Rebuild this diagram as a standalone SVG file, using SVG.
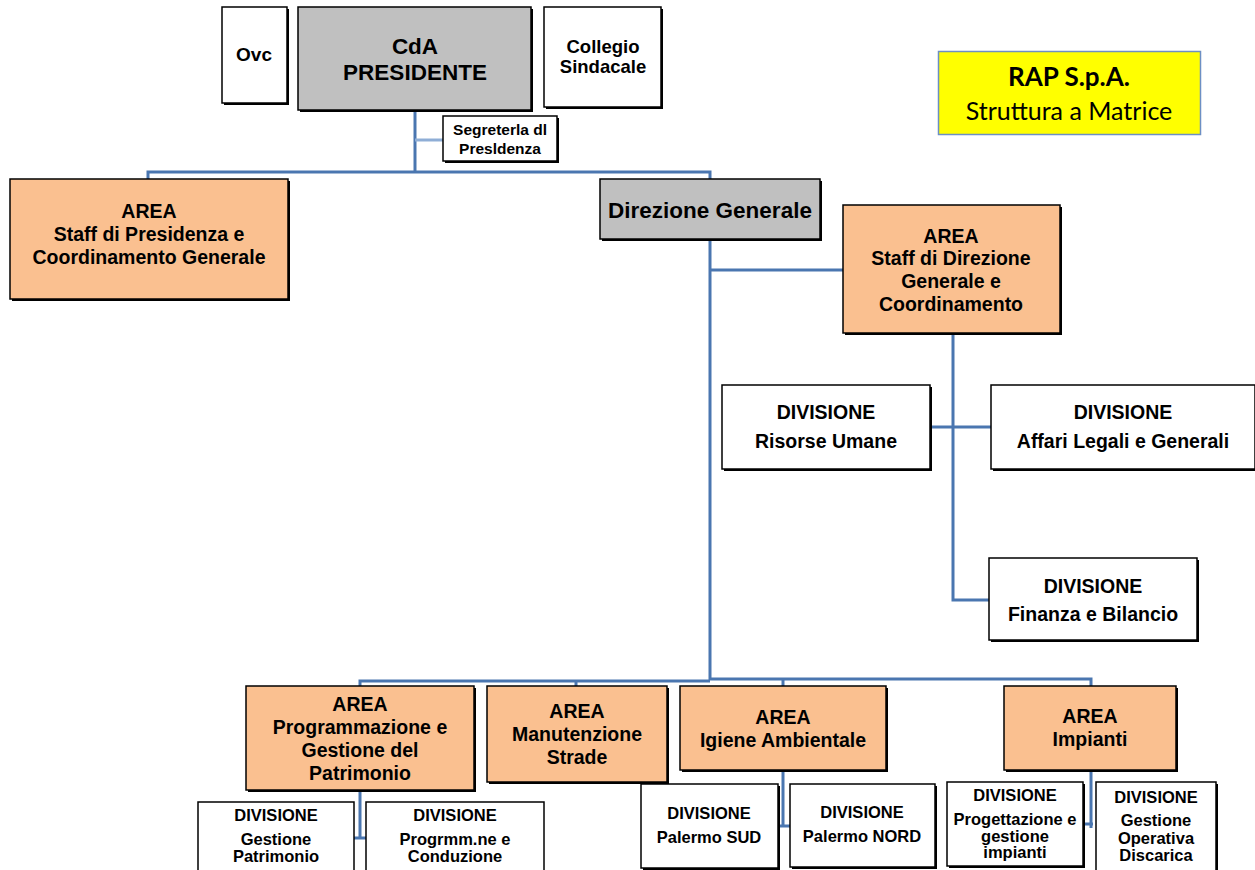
<svg xmlns="http://www.w3.org/2000/svg" width="1255" height="870" viewBox="0 0 1255 870">
<style>
.box{stroke:#000;stroke-width:1.5}
.sh{fill:#000}
.w{fill:#fff}
.g{fill:#c0c0c0}
.o{fill:#fac090}
.t{font-family:"Liberation Sans",Arial,sans-serif;font-weight:bold;fill:#000;text-anchor:middle}
.a{font-size:19.5px}
.d{font-size:16.5px}
.c{fill:none;stroke:#4a76b0;stroke-width:3}
.cl{fill:none;stroke:#8faed6;stroke-width:3}
</style>
<rect width="1255" height="870" fill="#fff"/>
<g id="connectors">
<path class="c" d="M415,110 V172"/>
<path class="cl" d="M415,140 H443"/>
<path class="c" d="M148,179 V172 H710 V179"/>
<path class="c" d="M710,239 V680"/>
<path class="c" d="M710,270 H843"/>
<path class="c" d="M953,333 V600 H989"/>
<path class="c" d="M930,427 H991"/>
<path class="c" d="M360,686 V681 H710"/>
<path class="c" d="M576,686 V681"/>
<path class="c" d="M710,679 H1091 V686"/>
<path class="c" d="M783,686 V680"/>
<path class="c" d="M360,790 V838 M353,838 H366"/>
<path class="c" d="M783,770 V826 M777,826 H790"/>
<path class="c" d="M1091,770 V828 M1082,824 H1093"/>
</g>
<g id="ovc"><rect class="sh" x="224" y="9" width="65" height="96"/><rect class="box w" x="222" y="7" width="65" height="96"/><text class="t" x="254" y="61" font-size="19">Ovc</text></g>
<g id="cda"><rect class="sh" x="300" y="9" width="233" height="103"/><rect class="box g" x="298" y="7" width="233" height="103"/><text class="t" x="415" y="54" font-size="22.5">CdA</text><text class="t" x="415" y="80" font-size="22.5">PRESIDENTE</text></g>
<g id="collegio"><rect class="sh" x="546" y="9" width="117" height="100"/><rect class="box w" x="544" y="7" width="117" height="100"/><text class="t" x="603" y="53" font-size="18.5">Collegio</text><text class="t" x="603" y="73" font-size="18.5">Sindacale</text></g>
<g id="rap"><rect x="938.5" y="51.5" width="262" height="83" fill="#ffff00" stroke="#6d8fc4" stroke-width="1.5"/><text x="1069" y="86" font-family="Lato,'Open Sans',sans-serif" font-weight="bold" font-size="26" text-anchor="middle">RAP S.p.A.</text><text x="1069" y="120" font-family="Lato,'Open Sans',sans-serif" font-size="25" text-anchor="middle">Struttura a Matrice</text></g>
<g id="segreteria"><rect class="sh" x="445" y="118" width="114" height="45"/><rect class="box w" x="443" y="116" width="114" height="45"/><text class="t" x="500" y="135" font-size="15.5">Segreterla dl</text><text class="t" x="500" y="154" font-size="15.5">Presldenza</text></g>
<g id="area-staff-pres"><rect class="sh" x="12" y="181" width="278" height="120"/><rect class="box o" x="10" y="179" width="278" height="120"/><text class="t a" x="149" y="218">AREA</text><text class="t a" x="149" y="241">Staff di Presidenza e</text><text class="t a" x="149" y="264">Coordinamento  Generale</text></g>
<g id="direzione"><rect class="sh" x="602" y="181" width="220" height="60"/><rect class="box g" x="600" y="179" width="220" height="60"/><text class="t" x="710" y="218" font-size="22.5">Direzione Generale</text></g>
<g id="area-staff-dg"><rect class="sh" x="845" y="207" width="217" height="128"/><rect class="box o" x="843" y="205" width="217" height="128"/><text class="t a" x="951" y="243">AREA</text><text class="t a" x="951" y="265">Staff di Direzione</text><text class="t a" x="951" y="288">Generale e</text><text class="t a" x="951" y="311">Coordinamento</text></g>
<g id="div-risorse"><rect class="sh" x="724" y="387" width="208" height="84"/><rect class="box w" x="722" y="385" width="208" height="84"/><text class="t a" x="826" y="419">DIVISIONE</text><text class="t a" x="826" y="448">Risorse Umane</text></g>
<g id="div-affari"><rect class="sh" x="993" y="387" width="264" height="84"/><rect class="box w" x="991" y="385" width="264" height="84"/><text class="t a" x="1123" y="419">DIVISIONE</text><text class="t a" x="1123" y="448">Affari Legali e Generali</text></g>
<g id="div-finanza"><rect class="sh" x="991" y="560" width="208" height="82"/><rect class="box w" x="989" y="558" width="208" height="82"/><text class="t a" x="1093" y="593">DIVISIONE</text><text class="t a" x="1093" y="621">Finanza e Bilancio</text></g>
<g id="area-prog"><rect class="sh" x="248" y="688" width="228" height="104"/><rect class="box o" x="246" y="686" width="228" height="104"/><text class="t a" x="360" y="711">AREA</text><text class="t a" x="360" y="734">Programmazione e</text><text class="t a" x="360" y="757">Gestione del</text><text class="t a" x="360" y="780">Patrimonio</text></g>
<g id="area-manut"><rect class="sh" x="489" y="688" width="180" height="96"/><rect class="box o" x="487" y="686" width="180" height="96"/><text class="t a" x="577" y="718">AREA</text><text class="t a" x="577" y="741">Manutenzione</text><text class="t a" x="577" y="764">Strade</text></g>
<g id="area-igiene"><rect class="sh" x="682" y="688" width="206" height="84"/><rect class="box o" x="680" y="686" width="206" height="84"/><text class="t a" x="783" y="724">AREA</text><text class="t a" x="783" y="747">Igiene Ambientale</text></g>
<g id="area-impianti"><rect class="sh" x="1006" y="688" width="172" height="84"/><rect class="box o" x="1004" y="686" width="172" height="84"/><text class="t a" x="1090" y="723">AREA</text><text class="t a" x="1090" y="746">Impianti</text></g>
<g id="div-gest-patr"><rect class="box w" x="198" y="802" width="156" height="72"/><text class="t d" x="276" y="821">DIVISIONE</text><text class="t d" x="276" y="845">Gestione</text><text class="t d" x="276" y="862">Patrimonio</text></g>
<g id="div-progrmm"><rect class="box w" x="366" y="802" width="178" height="72"/><text class="t d" x="455" y="821">DIVISIONE</text><text class="t d" x="455" y="845">Progrmm.ne e</text><text class="t d" x="455" y="862">Conduzione</text></g>
<g id="div-sud"><rect class="sh" x="643" y="786" width="137" height="84"/><rect class="box w" x="641" y="784" width="137" height="84"/><text class="t d" x="709" y="819">DIVISIONE</text><text class="t d" x="709" y="843">Palermo SUD</text></g>
<g id="div-nord"><rect class="sh" x="792" y="786" width="145" height="83"/><rect class="box w" x="790" y="784" width="145" height="83"/><text class="t d" x="862" y="818">DIVISIONE</text><text class="t d" x="862" y="842">Palermo NORD</text></g>
<g id="div-progett"><rect class="sh" x="949" y="784" width="136" height="84"/><rect class="box w" x="947" y="782" width="136" height="84"/><text class="t d" x="1015" y="801">DIVISIONE</text><text class="t d" x="1015" y="825">Progettazione e</text><text class="t d" x="1015" y="842">gestione</text><text class="t d" x="1015" y="858">impianti</text></g>
<g id="div-gest-op"><rect class="sh" x="1098" y="784" width="120" height="90"/><rect class="box w" x="1096" y="782" width="120" height="90"/><text class="t d" x="1156" y="803">DIVISIONE</text><text class="t d" x="1156" y="826">Gestione</text><text class="t d" x="1156" y="844">Operativa</text><text class="t d" x="1156" y="861">Discarica</text></g>
</svg>
